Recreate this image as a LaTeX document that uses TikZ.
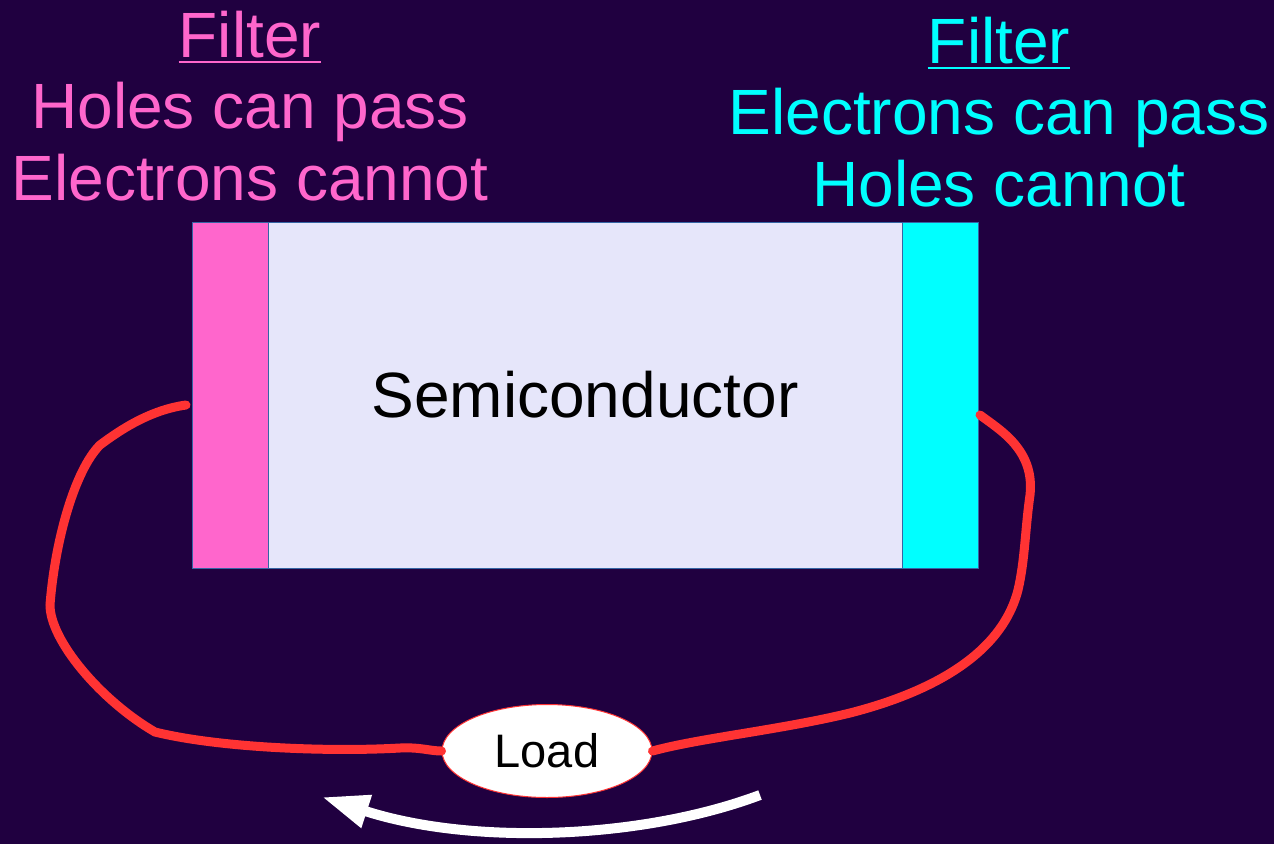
\documentclass[tikz,border=0pt]{standalone}
\usepackage{fontspec}
\setmainfont{Liberation Sans}
\usetikzlibrary{arrows.meta, positioning, shapes.geometric}

\definecolor{fondo}{RGB}{32,0,64}
\definecolor{rosa}{RGB}{255,102,204}
\definecolor{cian}{RGB}{0,255,255}
\definecolor{lavanda}{RGB}{230,230,250}
\definecolor{borde}{RGB}{52,101,164}
\definecolor{rojo}{RGB}{255,51,51}

\begin{document}
\begin{tikzpicture}[
        x=1pt, y=-1pt,
        bloque/.style={
            rectangle,
            draw=borde,
            line width=1pt,
            outer sep=0pt,
            inner sep=0pt,
            minimum height=346pt,
            font=\fontsize{64}{72}\selectfont
        },
        etiqueta/.style={
            inner sep=0pt,
            anchor=base,
            font=\fontsize{64}{72}\selectfont
        },
        subrayado/.style={line width=2.5pt},
        cable/.style={draw=rojo, line width=9pt, line cap=round},
        flecha/.style={-{Triangle[length=47pt, width=32pt]}, draw=white, line width=10pt}
    ]
        \fill[fondo] (0,0) rectangle (1274,844);
        \useasboundingbox (0,0) rectangle (1274,844);

        % bloques del semiconductor
        \node[bloque, fill=rosa, minimum width=76pt] (filtroh) at (230,395) {};
        \node[bloque, fill=lavanda, minimum width=634pt, right=0pt of filtroh] (semi)
            {Semiconductor};
        \node[bloque, fill=cian, minimum width=76pt, right=0pt of semi] (filtroe) {};

        % textos de los filtros
        \node[etiqueta, text=rosa] (filtrohT) at (250,57) {Filter};
        \node[etiqueta, text=rosa] (filtrohA) at (250,128) {Holes can pass};
        \node[etiqueta, text=rosa] (filtrohB) at (250,200) {Electrons cannot};
        \draw[subrayado, rosa] ([yshift=-5pt]filtrohT.base west) -- ([yshift=-5pt]filtrohT.base east);

        \node[etiqueta, text=cian] (filtroeT) at (999,63) {Filter};
        \node[etiqueta, text=cian] (filtroeA) at (999,134) {Electrons can pass};
        \node[etiqueta, text=cian] (filtroeB) at (999,206) {Holes cannot};
        \draw[subrayado, cian] ([yshift=-5pt]filtroeT.base west) -- ([yshift=-5pt]filtroeT.base east);

        % carga
        \node[ellipse, draw=rojo, line width=1pt, fill=white, inner sep=0pt,
            minimum width=210pt, minimum height=93pt,
            font=\fontsize{47}{50}\selectfont] (carga) at (547,751) {Load};

        % circuito
        \draw[cable] ([shift={(-6,10)}]filtroh.west)
            .. controls (150,410) and (120,430) .. (100,445)
            .. controls (75,470) and (55,540) .. (50,605)
            .. controls (50,640) and (100,700) .. (155,732)
            .. controls (220,748) and (330,752) .. (400,748)
            .. controls (420,747) and (430,751) .. (carga.west);
        \draw[cable] ([shift={(2,20)}]filtroe.east)
            .. controls (1000,430) and (1035,450) .. (1030,495)
            .. controls (1025,530) and (1025,560) .. (1018,590)
            .. controls (1000,660) and (920,695) .. (850,713)
            .. controls (780,730) and (700,738) .. (carga.east);

        % sentido de la corriente
        \coordinate (inicio) at (760,795);
        \coordinate (fin) at (322,797);
        \draw[flecha] (inicio) .. controls (640,840) and (470,845) .. (fin);
    \end{tikzpicture}
\end{document}
